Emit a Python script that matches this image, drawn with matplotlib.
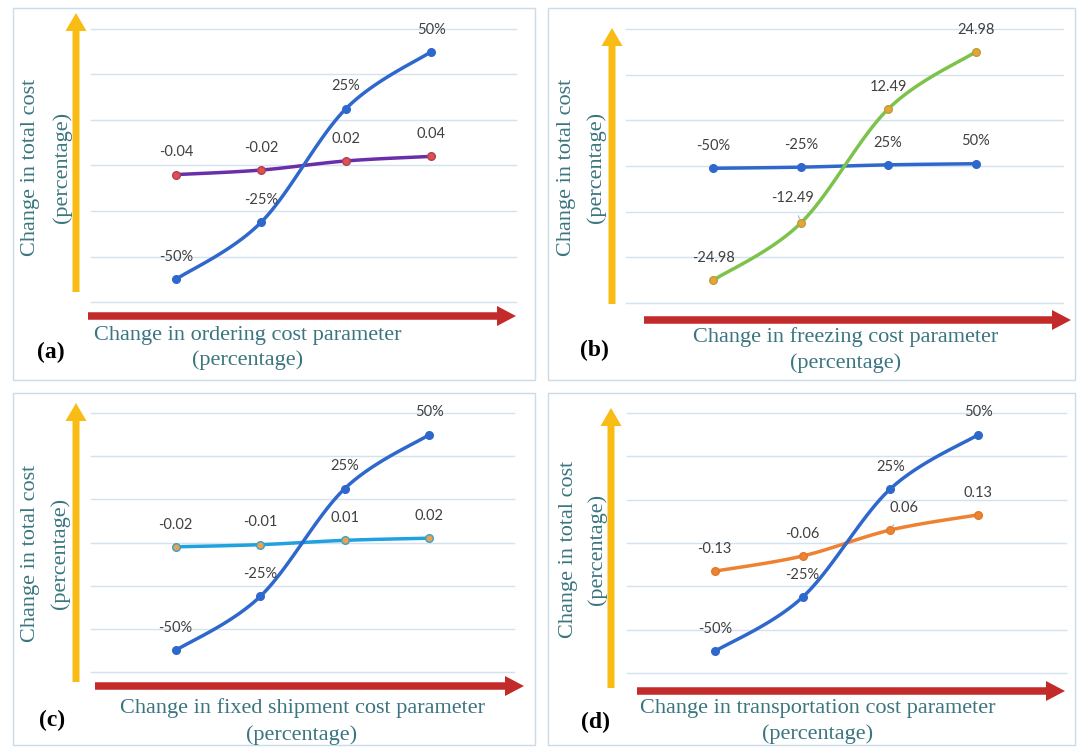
import numpy as np
import matplotlib
matplotlib.use("Agg")
import matplotlib.pyplot as plt
from matplotlib.patches import FancyArrow, Rectangle

# ---------------- data ----------------
categories = ["-50%", "-25%", "25%", "50%"]
param_change = [-0.50, -0.25, 0.25, 0.50]          # blue series (shown as %)
ordering_cost = [-0.04, -0.02, 0.02, 0.04]         # panel (a)
freezing_cost = [-24.98, -12.49, 12.49, 24.98]     # panel (b)
shipment_cost = [-0.02, -0.01, 0.01, 0.02]         # panel (c)
transport_cost = [-0.13, -0.06, 0.06, 0.13]        # panel (d)

x_labels = ["Change in ordering cost parameter",
            "Change in freezing cost parameter",
            "Change in fixed shipment cost parameter",
            "Change in transportation cost parameter"]
panel_tags = ["(a)", "(b)", "(c)", "(d)"]
y_label = "Change in total cost"

W, H = 1077, 748
fig = plt.figure(figsize=(W / 100, H / 100), dpi=100)
fig.patch.set_facecolor("white")

BLUE = "#2F68CC"
GRID = "#D3E2EE"
TEAL = "#3A7580"
LABEL_C = "#404040"
LABEL_FONT = ["Lato", "DejaVu Sans"]
SERIF = ["Liberation Serif", "DejaVu Serif"]


def smooth(xs, ys, n=40):
    pts = np.column_stack([xs, ys]).astype(float)
    P = np.vstack([pts[0], pts, pts[-1]])
    out = []
    t = np.linspace(0, 1, n)[:, None]
    for i in range(1, len(P) - 2):
        p0, p1, p2, p3 = P[i - 1], P[i], P[i + 1], P[i + 2]
        c1 = p1 + (p2 - p0) / 6
        c2 = p2 - (p3 - p1) / 6
        seg = (1 - t) ** 3 * p1 + 3 * (1 - t) ** 2 * t * c1 + 3 * (1 - t) * t ** 2 * c2 + t ** 3 * p2
        out.append(seg if i == 1 else seg[1:])
    s = np.vstack(out)
    return s[:, 0], s[:, 1]


def px_axes(x0, y0, x1, y1):
    return fig.add_axes([x0 / W, 1 - y1 / H, (x1 - x0) / W, (y1 - y0) / H])


def draw_series(ax, xs, ys, color, mfc, mec, labels, lw=2.5, z=3, special=None):
    sx, sy = smooth(xs, ys)
    ax.plot(sx, sy, color=color, lw=lw, zorder=z, solid_capstyle="round")
    ax.plot(xs, ys, ls="none", marker="o", ms=5.5, mfc=mfc, mec=mec, mew=1.0, zorder=z + 0.5)
    for i, (x, y, lab) in enumerate(zip(xs, ys, labels)):
        off = (0, 16)
        arrow = None
        if special and i in special:
            off = special[i]
            arrow = dict(arrowstyle="-", color="#9DB8D0", lw=0.8, shrinkA=6, shrinkB=3)
        ax.annotate(lab, (x, y), xytext=off, textcoords="offset points",
                    ha="center", va="center", fontsize=10.5, color=LABEL_C,
                    family=LABEL_FONT, zorder=6, arrowprops=arrow)


xs = np.arange(1, len(categories) + 1)
pct_labels = [f"{v:.0%}" for v in param_change]

panels = [
    dict(box=(91, 29, 516, 302), ylim=0.6, step=0.2,
         series=[(ordering_cost, "#6A2FA8", "#E0504D", "#B0405A", [f"{v:.2f}" for v in ordering_cost], None),
                 (param_change, BLUE, BLUE, BLUE, pct_labels, None)]),
    dict(box=(626, 29, 1063, 303), ylim=30, step=10,
         series=[(param_change, BLUE, BLUE, BLUE, pct_labels, None),
                 (freezing_cost, "#7DC24B", "#E8A33A", "#B9A03A", [f"{v:.2f}" for v in freezing_cost],
                  {1: (-6, 18)})]),
    dict(box=(91, 413, 514, 672), ylim=0.6, step=0.2,
         series=[(shipment_cost, "#1FA2DE", "#E8A352", "#3AA0C8", [f"{v:.2f}" for v in shipment_cost], None),
                 (param_change, BLUE, BLUE, BLUE, pct_labels, None)]),
    dict(box=(627, 413, 1066, 673), ylim=0.6, step=0.2,
         series=[(transport_cost, "#EE8132", "#EE8132", "#E07828", [f"{v:.2f}" for v in transport_cost],
                  {2: (10, 16)}),
                 (param_change, BLUE, BLUE, BLUE, pct_labels, None)]),
]

for p in panels:
    ax = px_axes(*p["box"])
    lim = p["ylim"]
    ax.set_xlim(0, 5)
    ax.set_ylim(-lim, lim)
    for g in np.arange(-lim, lim + p["step"] / 2, p["step"]):
        ax.axhline(g, color=GRID, lw=1.0, zorder=1, clip_on=False)
    ax.set_xticks([])
    ax.set_yticks([])
    for s in ax.spines.values():
        s.set_visible(False)
    ax.patch.set_alpha(0)
    for k, (vals, col, mfc, mec, labs, special) in enumerate(p["series"]):
        draw_series(ax, xs, vals, col, mfc, mec, labs, z=3 + 2 * k, special=special)

# ---------------- overlay: borders, arrows, texts ----------------
ov = fig.add_axes([0, 0, 1, 1], zorder=-1)
ov.set_xlim(0, W)
ov.set_ylim(H, 0)
ov.axis("off")

borders = [(13, 8, 535, 380), (548, 8, 1075, 380), (13, 393, 535, 745), (548, 393, 1075, 745)]
for (x0, y0, x1, y1) in borders:
    ov.add_patch(Rectangle((x0, y0), x1 - x0, y1 - y0, fill=False, ec="#CADBEA", lw=1.0))

red_arrows = [(88, 516, 316), (644, 1071, 320), (95, 524, 686), (637, 1065, 691)]
for (xa, xb, y) in red_arrows:
    ov.add_patch(FancyArrow(xa, y, xb - xa, 0, width=7.5, head_width=20, head_length=19,
                            length_includes_head=True, color="#C22B2A", lw=0))

yellow_arrows = [(76, 292, 13), (612, 304, 28), (76, 682, 403), (611, 688, 408)]
for (x, ya, yb) in yellow_arrows:
    ov.add_patch(FancyArrow(x, ya, 0, yb - ya, width=7, head_width=21, head_length=18,
                            length_includes_head=True, color="#F8BC14", lw=0))

ylab_pos = [(31, 62, 167), (566, 596, 167), (31, 60, 553), (568, 597, 549)]
for (xa, xb, yc) in ylab_pos:
    ov.text(xa, yc, y_label, rotation=90, ha="center", va="center", fontsize=16,
            family=SERIF, color=TEAL)
    ov.text(xb, yc, "(percentage)", rotation=90, ha="center", va="center", fontsize=16,
            family=SERIF, color=TEAL)

xlab_pos = [(248, 335, 360), (846, 337, 363), (302, 708, 735), (818, 708, 734)]
for lab, (xc, ya, yb) in zip(x_labels, xlab_pos):
    ov.text(xc, ya, lab, ha="center", va="center", fontsize=16, family=SERIF, color=TEAL)
    ov.text(xc, yb, "(percentage)", ha="center", va="center", fontsize=16, family=SERIF, color=TEAL)

tag_pos = [(51, 352), (594, 350), (52, 720), (595, 722)]
for tag, (x, y) in zip(panel_tags, tag_pos):
    ov.text(x, y, tag, ha="center", va="center", fontsize=17, fontweight="bold",
            family=SERIF, color="black")

fig.savefig("out.png", dpi=100)
